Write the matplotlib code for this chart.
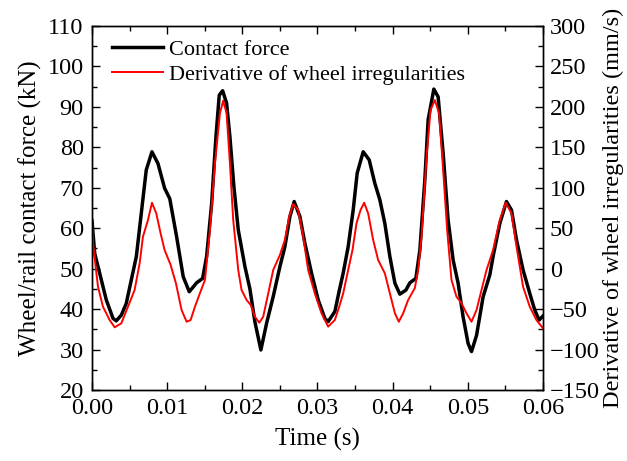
import numpy as np
import matplotlib
matplotlib.use('Agg')
import matplotlib.pyplot as plt
from matplotlib.ticker import MultipleLocator

plt.rcParams['font.family'] = ['Liberation Serif', 'DejaVu Serif']
plt.rcParams['font.size'] = 17.5

# contact force (kN)
t_force = [0.0, 0.00036, 0.00102, 0.0019, 0.0028, 0.00323, 0.0039, 0.00456, 0.00523,
           0.0059, 0.00656, 0.00722, 0.00798, 0.00878, 0.00966, 0.01035, 0.01126,
           0.01214, 0.01294, 0.01392, 0.01472, 0.01525, 0.01592, 0.01649, 0.01693,
           0.01738, 0.01791, 0.01835, 0.01888, 0.01946, 0.02035, 0.02101, 0.02168,
           0.02247, 0.02323, 0.02411, 0.025, 0.02566, 0.02633, 0.0269, 0.02766,
           0.02832, 0.02921, 0.03009, 0.03098, 0.03142, 0.03231, 0.03289, 0.03342,
           0.03408, 0.03475, 0.03528, 0.03608, 0.03688, 0.03763, 0.0383, 0.03896,
           0.03963, 0.0403, 0.04096, 0.04176, 0.04229, 0.04309, 0.04362, 0.04428,
           0.04472, 0.04548, 0.04605, 0.04672, 0.04738, 0.04805, 0.04871, 0.04937,
           0.05004, 0.05049, 0.05116, 0.05203, 0.05293, 0.05336, 0.05426, 0.05514,
           0.05581, 0.05648, 0.05735, 0.05824, 0.0589, 0.05948, 0.06]
force = [61.9, 53.8, 48.9, 42.3, 37.7, 37.1, 38.5, 41.4, 47.2,
         53.0, 63.7, 74.4, 78.9, 76.0, 69.9, 67.3, 57.9,
         48.0, 44.3, 46.5, 47.6, 53.0, 66.1, 82.6, 92.9,
         94.0, 90.9, 82.6, 70.3, 59.6, 50.5, 45.0, 36.8,
         29.9, 36.5, 43.1, 50.5, 55.4, 62.9, 66.6, 62.9,
         56.3, 48.9, 42.3, 37.7, 36.9, 39.4, 44.5, 48.9,
         55.4, 64.5, 73.6, 78.9, 76.9, 71.1, 67.0, 61.2,
         53.0, 46.4, 43.7, 44.7, 46.5, 47.6, 54.6, 71.9,
         86.8, 94.4, 92.5, 78.5, 62.0, 52.1, 46.4, 38.1,
         31.5, 29.5, 33.5, 43.0, 48.5, 53.0, 61.2, 66.6,
         64.5, 57.1, 49.7, 43.9, 39.8, 37.3, 38.3]

# derivative of wheel irregularities (mm/s)
t_deriv = [0.0, 0.00013, 0.0008, 0.00146, 0.00235, 0.00302, 0.0039, 0.00479, 0.00567,
           0.00634, 0.00678, 0.00745, 0.00798, 0.00855, 0.00913, 0.00966, 0.01045,
           0.01117, 0.01192, 0.01259, 0.01312, 0.0137, 0.01427, 0.01503, 0.01569,
           0.01636, 0.01702, 0.01746, 0.01791, 0.01835, 0.01879, 0.01946, 0.0199,
           0.02057, 0.02112, 0.02168, 0.02225, 0.02278, 0.02345, 0.02411, 0.025,
           0.02566, 0.02624, 0.02677, 0.02743, 0.0281, 0.02876, 0.02965, 0.03054,
           0.03142, 0.03231, 0.03289, 0.03342, 0.03408, 0.03466, 0.03519, 0.03573,
           0.03621, 0.03674, 0.03741, 0.03807, 0.03896, 0.03963, 0.0403, 0.04082,
           0.0414, 0.04206, 0.04295, 0.04339, 0.04384, 0.04451, 0.04504, 0.04561,
           0.04618, 0.04672, 0.04725, 0.04783, 0.04849, 0.04916, 0.04983, 0.05049,
           0.05116, 0.0516, 0.05249, 0.05336, 0.05426, 0.05505, 0.05581, 0.05648,
           0.05735, 0.05824, 0.05913, 0.06]
deriv = [58.1, 31.4, -22.3, -47.0, -63.5, -72.5, -67.6, -47.0, -26.4,
         6.6, 39.5, 60.2, 81.5, 68.4, 43.7, 23.1, 5.0,
         -18.1, -51.1, -65.6, -63.5, -47.0, -32.6, -14.0, 47.8,
         130.3, 192.0, 207.7, 192.0, 130.3, 60.2, -1.7, -26.4,
         -38.7, -45.0, -59.4, -66.8, -59.4, -30.5, -1.7, 16.9,
         35.4, 64.2, 79.9, 72.5, 39.5, -1.7, -30.5, -55.2,
         -71.7, -63.5, -47.0, -30.5, -1.7, 23.1, 56.1, 72.5,
         81.5, 68.4, 35.4, 10.7, -5.7, -30.5, -55.2, -65.6,
         -55.2, -38.7, -24.0, -1.7, 39.5, 138.4, 196.1, 208.5,
         192.0, 121.9, 47.8, -14.0, -34.6, -42.8, -55.2, -65.6,
         -51.1, -34.6, -1.7, 23.1, 60.2, 81.5, 68.4, 27.2,
         -22.3, -47.0, -63.5, -73.7]

fig = plt.figure(figsize=(6.27, 4.61), dpi=100)
ax = fig.add_axes([0.1467, 0.154, 0.7193, 0.7896])
ax2 = ax.twinx()

l1, = ax.plot(t_force, force, 'k-', lw=2.5, solid_joinstyle='round',
              label='Contact force')
l2, = ax2.plot(t_deriv, deriv, 'r-', lw=1.4, solid_joinstyle='round',
               label='Derivative of wheel irregularities')

ax.set_xlim(0, 0.06)
ax.set_ylim(20, 110)
ax2.set_ylim(-150, 300)

ax.xaxis.set_major_locator(MultipleLocator(0.01))
ax.xaxis.set_minor_locator(MultipleLocator(0.005))
ax.yaxis.set_major_locator(MultipleLocator(10))
ax.yaxis.set_minor_locator(MultipleLocator(5))
ax2.yaxis.set_major_locator(MultipleLocator(50))
ax2.yaxis.set_minor_locator(MultipleLocator(25))
ax.xaxis.set_major_formatter(plt.FuncFormatter(lambda v, p: '%.2f' % v))

ax.tick_params(which='both', direction='in', top=True, width=1.0, labelsize=17.5)
ax.tick_params(which='major', length=6, pad=6)
ax.tick_params(which='minor', length=3.5)
ax.tick_params(axis='y', right=False)
ax2.tick_params(which='both', direction='in', width=1.0, labelsize=17.5)
ax2.tick_params(which='major', length=6, pad=5)
ax2.tick_params(which='minor', length=3.5)
for sp in list(ax.spines.values()) + list(ax2.spines.values()):
    sp.set_linewidth(1.0)

ax.set_xlabel('Time (s)', fontsize=18, labelpad=6)
ax.set_ylabel('Wheel/rail contact force (kN)', fontsize=18, labelpad=4)
ax2.set_ylabel('Derivative of wheel irregularities (mm/s)', fontsize=17.5, labelpad=2)

ax2.legend(handles=[l1, l2], loc='upper left', frameon=False, fontsize=16,
           handlelength=2.3, borderaxespad=0.2, labelspacing=0.2,
           handletextpad=0.25, bbox_to_anchor=(0.015, 1.0))

fig.savefig('out.png', dpi=100)
